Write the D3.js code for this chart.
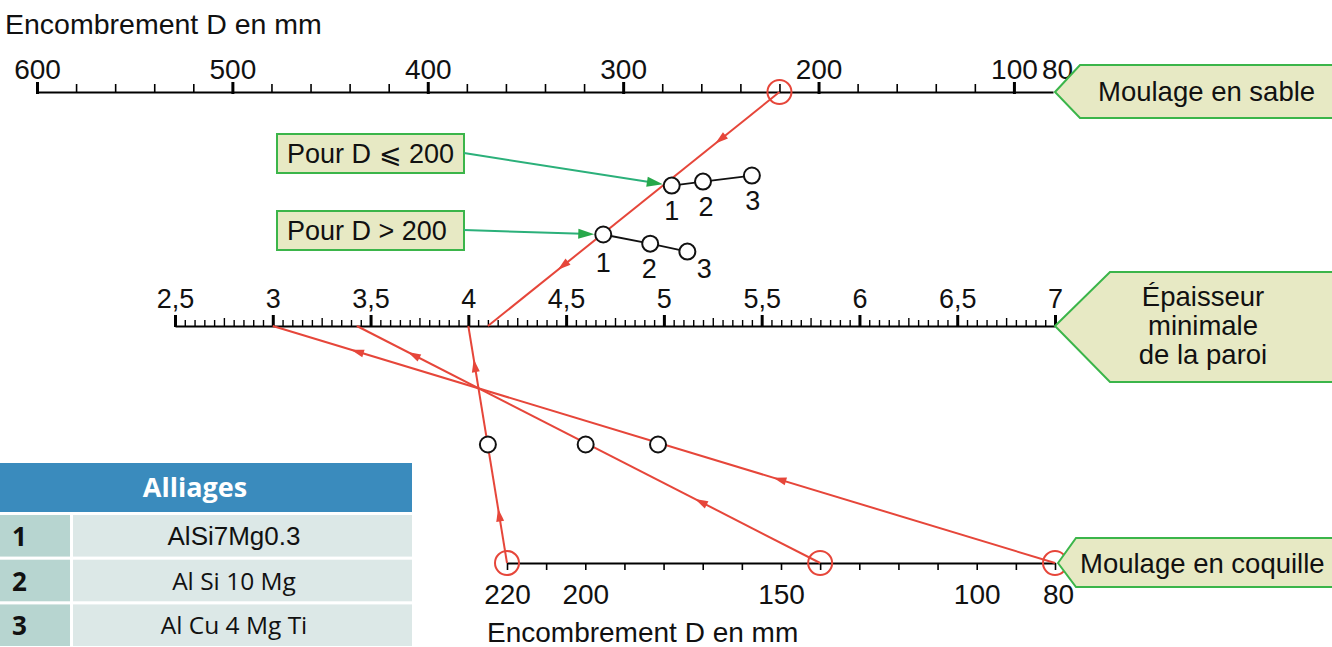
<!DOCTYPE html>
<html>
<head>
<meta charset="utf-8">
<script src="https://cdn.jsdelivr.net/npm/d3@7"></script>
<style>
  body { margin: 0; background: #fff; }
  svg { display: block; font-family: "Liberation Sans", Arial, sans-serif; }
</style>
</head>
<body>
<div id="chart"></div>
<script>
// graduations of the three scales
const sandMinorTicks = d3.range(600, 99, -20);
const sandLabels = [600, 500, 400, 300, 200, 100, 80];
const wallTicks = d3.range(0, 91).map(i => +(2.5 + i * 0.05).toFixed(2));
const wallLabels = [2.5, 3, 3.5, 4, 4.5, 5, 5.5, 6, 6.5, 7];
const shellTicks = d3.range(220, 79, -10);
const shellLabels = [220, 200, 150, 100, 80];

// alloys
const alloyIds = [1, 2, 3];
const alloyNames = ["AlSi7Mg0.3", "Al Si 10 Mg", "Al Cu 4 Mg Ti"];

// pivot points (ep = wall thickness units, level: 0 sand scale, 1 wall scale, 2 shell scale)
const pivotsSmallD = [
  { id: 1, ep: 5.04, level: 0.400 },
  { id: 2, ep: 5.20, level: 0.383 },
  { id: 3, ep: 5.45, level: 0.357 }
];
const pivotsLargeD = [
  { id: 1, ep: 4.69, level: 0.609 },
  { id: 2, ep: 4.93, level: 0.648 },
  { id: 3, ep: 5.12, level: 0.682 }
];
const pivotsShell = [
  { id: 1, ep: 4.10, level: 1.5 },
  { id: 2, ep: 4.60, level: 1.5 },
  { id: 3, ep: 4.97, level: 1.5 }
];

// example readings: D (mm) -> thickness (mm)
const sandReadings = [{ D: 220, ep: 4.1 }];
const shellReadings = [
  { D: 220, ep: 4.0 },
  { D: 140, ep: 3.43 },
  { D: 80, ep: 3.0 }
];

const width = 1332, height = 647;
const red = "#e6463a", green = "#3bb54a", boxFill = "#e7e9c4";
const FONT = "Liberation Sans";

const svg = d3.select("#chart").append("svg")
    .attr("width", width)
    .attr("height", height);

const xSand = d3.scaleLinear().domain([600, 80]).range([37, 1053]);
const xWall = d3.scaleLinear().domain([2.5, 7]).range([175, 1055]);
const xShell = d3.scaleLinear().domain([220, 80]).range([507, 1055]);
const yLevel = d3.scaleLinear().domain([0, 1, 2]).range([92, 326, 563]);

const commaFmt = d => String(d).replace(".", ",");

// ---- sand scale (top)
const ySand = yLevel(0);
svg.append("g")
    .attr("transform", `translate(0,${ySand})`)
    .call(d3.axisTop(xSand).tickValues(sandMinorTicks.filter(d => d % 100)).tickSize(8).tickSizeOuter(0).tickFormat(""))
    .call(g => g.select(".domain").attr("stroke-width", 2))
    .call(g => g.selectAll(".tick line").attr("stroke-width", 1.6));

svg.append("g")
    .attr("transform", `translate(0,${ySand})`)
    .call(d3.axisTop(xSand).tickValues(sandLabels).tickSize(10).tickPadding(3).tickSizeOuter(0))
    .call(g => g.select(".domain").remove())
    .call(g => g.selectAll(".tick line").attr("stroke-width", 3).attr("y2", -10).attr("y1", 2))
    .call(g => g.selectAll(".tick").filter(d => d === 80).select("line").remove())
    .call(g => g.selectAll(".tick").filter(d => d === 80).select("text").attr("dx", 4))
    .call(g => g.selectAll("text").attr("font-size", 28).attr("font-family", FONT).attr("fill", "#111"));

svg.append("text")
    .attr("x", 5).attr("y", 34)
    .attr("font-size", 28.5)
    .attr("fill", "#111")
    .text("Encombrement D en mm");

// ---- wall thickness scale (middle)
const yWall = yLevel(1);
const wallAxis = svg.append("g")
    .attr("transform", `translate(0,${yWall})`)
    .call(d3.axisTop(xWall).tickValues(wallTicks).tickSizeOuter(0).tickPadding(3)
      .tickFormat(d => wallLabels.includes(d) ? commaFmt(d) : ""))
    .call(g => g.select(".domain").attr("stroke-width", 2));

wallAxis.selectAll(".tick").each(function(d) {
  const i = Math.round((d - 2.5) / 0.05);
  const major = i % 10 === 0, mid = i % 5 === 0;
  d3.select(this).select("line")
    .attr("y1", major ? 1 : 0)
    .attr("y2", major ? -11 : mid ? -8 : -6)
    .attr("stroke-width", major ? 3 : 1.4);
  d3.select(this).select("text").attr("y", -18);
});
wallAxis.selectAll("text").attr("font-size", 27).attr("font-family", FONT).attr("fill", "#111");

// ---- shell scale (bottom)
const yShell = yLevel(2);
svg.append("g")
    .attr("transform", `translate(0,${yShell})`)
    .call(d3.axisBottom(xShell).tickValues(shellTicks).tickSize(7).tickSizeOuter(0)
      .tickFormat(d => shellLabels.includes(d) ? d : ""))
    .call(g => g.select(".domain").attr("stroke-width", 2))
    .call(g => g.selectAll(".tick line").attr("stroke-width", 1.6))
    .call(g => g.selectAll("text").attr("y", 41).attr("dy", 0).attr("font-size", 28).attr("font-family", FONT).attr("fill", "#111"))
    .call(g => g.selectAll(".tick").filter(d => d === 80).select("text").attr("dx", 3));

svg.append("text")
    .attr("x", 487).attr("y", 642)
    .attr("font-size", 28)
    .attr("fill", "#111")
    .text("Encombrement D en mm");

// ---- red reading lines with arrowheads
function arrowHead(p, dir, len, half) {
  const [ux, uy] = dir;
  const bx = p[0] - ux * len, by = p[1] - uy * len;
  return [[p[0], p[1]], [bx - uy * half, by + ux * half], [bx + uy * half, by - ux * half]];
}

function readingLine(start, end, arrowsAt) {
  svg.append("line")
      .attr("x1", start[0]).attr("y1", start[1])
      .attr("x2", end[0]).attr("y2", end[1])
      .attr("stroke", red).attr("stroke-width", 2);
  const dx = end[0] - start[0], dy = end[1] - start[1];
  const L = Math.hypot(dx, dy);
  arrowsAt.forEach(t => {
    const p = [start[0] + dx * t, start[1] + dy * t];
    svg.append("polygon")
        .attr("points", arrowHead(p, [dx / L, dy / L], 13, 4).map(q => q.join(",")).join(" "))
        .attr("fill", red);
  });
  svg.append("circle")
      .attr("cx", start[0]).attr("cy", start[1]).attr("r", 12)
      .attr("fill", "none").attr("stroke", red).attr("stroke-width", 2);
}

const sandArrows = [[0.22, 0.76]];
sandReadings.forEach((r, i) =>
  readingLine([xSand(r.D), ySand], [xWall(r.ep), yWall], sandArrows[i]));

const shellArrows = [[0.23, 0.86], [0.27, 0.89], [0.36, 0.9]];
shellReadings.forEach((r, i) =>
  readingLine([xShell(r.D), yShell], [xWall(r.ep), yWall], shellArrows[i]));

// ---- pivot points
const pt = d => [xWall(d.ep), yLevel(d.level)];

function pivotGroup(data, labelOffsets) {
  svg.append("path")
      .attr("d", d3.line()(data.map(pt)))
      .attr("fill", "none").attr("stroke", "#111").attr("stroke-width", 1.8);
  svg.selectAll(null).data(data).enter().append("circle")
      .attr("cx", d => pt(d)[0]).attr("cy", d => pt(d)[1]).attr("r", 8)
      .attr("fill", "#fff").attr("stroke", "#111").attr("stroke-width", 2);
  if (labelOffsets) {
    svg.selectAll(null).data(data).enter().append("text")
        .attr("x", (d, i) => pt(d)[0] + labelOffsets[i][0])
        .attr("y", (d, i) => pt(d)[1] + labelOffsets[i][1])
        .attr("text-anchor", "middle")
        .attr("font-size", 27).attr("fill", "#111")
        .text(d => d.id);
  }
}
pivotGroup(pivotsSmallD, [[0, 34], [3, 34], [1, 34]]);
pivotGroup(pivotsLargeD, [[0, 37], [-1, 34], [17, 26]]);
svg.selectAll(null).data(pivotsShell).enter().append("circle")
    .attr("cx", d => pt(d)[0]).attr("cy", d => pt(d)[1]).attr("r", 8)
    .attr("fill", "#fff").attr("stroke", "#111").attr("stroke-width", 2);

// ---- green callouts
const callouts = [
  { text: "Pour D \u2A7D 200", y: 134, target: pivotsSmallD[0] },
  { text: "Pour D > 200", y: 211, target: pivotsLargeD[0] }
];
callouts.forEach(c => {
  svg.append("rect")
      .attr("x", 277).attr("y", c.y).attr("width", 187).attr("height", 39)
      .attr("fill", boxFill).attr("stroke", green).attr("stroke-width", 2);
  svg.append("text")
      .attr("x", 287).attr("y", c.y + 29)
      .attr("font-size", 27).attr("fill", "#111")
      .text(c.text);
  const s = [464, c.y + 19];
  const e0 = pt(c.target);
  const dx = e0[0] - s[0], dy = e0[1] - s[1], L = Math.hypot(dx, dy);
  const e = [e0[0] - dx / L * 9, e0[1] - dy / L * 9];
  svg.append("line")
      .attr("x1", s[0]).attr("y1", s[1]).attr("x2", e[0] - dx / L * 12).attr("y2", e[1] - dy / L * 12)
      .attr("stroke", "#2bb07a").attr("stroke-width", 2);
  svg.append("polygon")
      .attr("points", arrowHead(e, [dx / L, dy / L], 16, 5).map(q => q.join(",")).join(" "))
      .attr("fill", "#27a84a");
});

// ---- right-hand tags
function tag(tipX, tipY, bodyX, top, bottom, lines, textX, anchor, baselines) {
  svg.append("polygon")
      .attr("points", [[tipX, tipY], [bodyX, top], [1345, top], [1345, bottom], [bodyX, bottom]].map(q => q.join(",")).join(" "))
      .attr("fill", boxFill).attr("stroke", green).attr("stroke-width", 2);
  lines.forEach((t, i) => {
    svg.append("text")
        .attr("x", textX).attr("y", baselines[i])
        .attr("text-anchor", anchor)
        .attr("font-size", 27.5).attr("fill", "#111")
        .text(t);
  });
}
tag(xSand(80) + 2, ySand, 1080, 65, 118, ["Moulage en sable"], 1098, "start", [101]);
tag(xWall(7), yWall, 1110, 272, 382, ["\u00C9paisseur", "minimale", "de la paroi"], 1203, "middle", [306, 335, 364]);
tag(xShell(80) + 3, yShell, 1076, 538, 587, ["Moulage en coquille"], 1080, "start", [573]);

// ---- alloy table
const table = svg.append("g").attr("font-family", "'Open Sans', 'Noto Sans', sans-serif");
table.append("rect")
    .attr("x", 0).attr("y", 463).attr("width", 412).attr("height", 49)
    .attr("fill", "#3a8bbd");
table.append("text")
    .attr("x", 195).attr("y", 497)
    .attr("text-anchor", "middle")
    .attr("font-size", 27).attr("font-weight", "bold").attr("fill", "#fff")
    .text("Alliages");

const rowY = d3.scaleBand().domain(alloyIds).range([515, 646]).paddingInner(0.07);
alloyIds.forEach((id, i) => {
  const y = rowY(id), h = rowY.bandwidth();
  table.append("rect").attr("x", 0).attr("y", y).attr("width", 70).attr("height", h).attr("fill", "#b7d5d0");
  table.append("rect").attr("x", 73).attr("y", y).attr("width", 339).attr("height", h).attr("fill", "#dce8e7");
  table.append("text")
      .attr("x", 12).attr("y", y + h / 2 + 10)
      .attr("font-size", 26).attr("font-weight", "bold").attr("fill", "#111")
      .text(id);
  table.append("text")
      .attr("x", 234).attr("y", y + h / 2 + 9)
      .attr("text-anchor", "middle")
      .attr("font-size", i === 0 ? 26 : 24.5).attr("fill", "#111")
      .attr("font-family", i === 0 ? FONT : null)
      .text(alloyNames[i]);
});
</script>
</body>
</html>
